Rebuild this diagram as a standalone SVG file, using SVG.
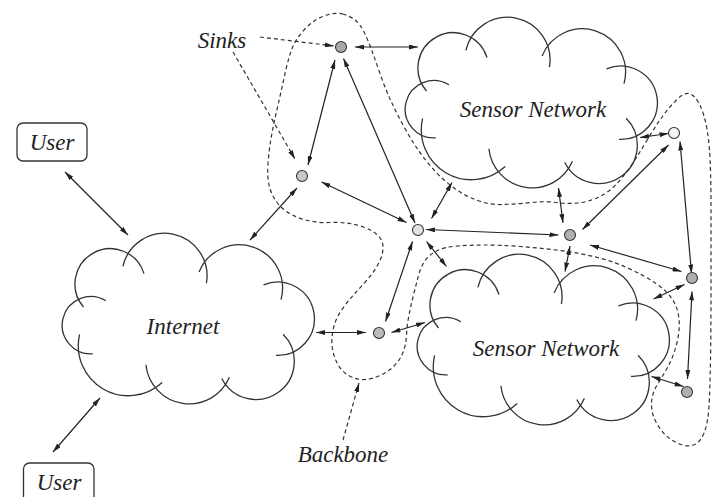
<svg xmlns="http://www.w3.org/2000/svg" xmlns:xlink="http://www.w3.org/1999/xlink" width="712" height="497" viewBox="0 0 712 497">
<style>
.cl{fill:none;stroke:#333;stroke-width:1.3}
.ln{fill:none;stroke:#222;stroke-width:1.2;marker-start:url(#ah);marker-end:url(#ah)}
.dl{fill:none;stroke:#333;stroke-width:1.2;stroke-dasharray:4 3}
.da{marker-end:url(#ah)}
.lbl{font-family:"Liberation Serif","Times New Roman",serif;font-style:italic;font-size:23px;fill:#222}
.box{fill:#fff;stroke:#333;stroke-width:1.3}
.snk{stroke:#333;stroke-width:1.1}
</style>
<defs>
<marker id="ah" viewBox="0 0 9 5" refX="9" refY="2.5" markerWidth="9" markerHeight="5" markerUnits="userSpaceOnUse" orient="auto-start-reverse">
<path d="M0,0 L9,2.5 L0,5 Z" fill="#222"/>
</marker>
<path id="cloud" class="cl" d="M27.5,79.0 A35.3,35.3 0 1 1 88.0,45.6 M66.9,38.4 A42.6,42.6 0 0 1 150.4,55.2 M143.1,43.9 A43.3,43.3 0 0 1 225.0,71.6 M207.5,56.9 A36.7,36.7 0 1 1 220.0,127.4 M227.1,106.2 A38.3,38.3 0 1 1 165.8,150.5 M173.4,149.3 A43.6,43.6 0 0 1 89.9,136.7 M106.2,154.5 A50,50 0 0 1 23.6,106.4 M36.7,125.9 A28.7,28.7 0 1 1 49.9,72.8"/>
</defs>
<rect width="712" height="497" fill="#fff"/>

<g id="backbone">
<path class="dl" d="M342.5,14 Q350,16 355,20 Q360,24 364,32 Q368,40 372,51 Q376,62 380.5,75 Q385,88 390.5,100 Q396,112 403,125 Q410,138 417.5,149 Q425,160 434,170 Q443,180 454,188 Q465,196 477.5,200.5 Q490,205 503.5,204.5 Q517,204 531,202.5 Q545,201 556,202.5 Q567,204 577.5,203 Q588,202 598,197.5 Q608,193 616.5,184 Q625,175 632.5,163.5 Q640,152 647.5,139.5 Q655,127 662.5,116.5 Q670,106 678.5,98 Q687,90 693.5,96 Q700,102 704,116 Q708,130 709.5,150 Q711,170 711,210 Q711,250 711,290 Q711,330 710.5,360 Q710,390 709,406.5 Q708,423 704,433 Q700,443 693.5,445 Q687,447 679.5,444 Q672,441 666,435.5 Q660,430 655.5,421 Q651,412 651.5,402.5 Q652,393 658,383.5 Q664,374 669,364.5 Q674,355 677,342.5 Q680,330 679,319 Q678,308 672.5,299.5 Q667,291 656,283.5 Q645,276 630,269 Q615,262 597.5,257.5 Q580,253 560,250.5 Q540,248 520,246.5 Q500,245 485,245 Q470,245 457.5,246 Q445,247 437.5,250.5 Q430,254 425.5,260 Q421,266 418.5,275.5 Q416,285 413.5,295 Q411,305 409,315 Q407,325 406.5,335 Q406,345 403,352.5 Q400,360 394,366 Q388,372 380,375.5 Q372,379 365,379.5 Q358,380 350.5,376.5 Q343,373 338.5,365.5 Q334,358 332.5,349 Q331,340 333,330 Q335,320 341,311 Q347,302 353.5,295 Q360,288 367,280 Q374,272 378.5,263.5 Q383,255 383,247.5 Q383,240 377.5,235 Q372,230 363.5,227 Q355,224 346.5,223 Q338,222 329,222.5 Q320,223 310,221 Q300,219 291.5,214.5 Q283,210 277.5,203 Q272,196 269.5,187 Q267,178 268,164 Q269,150 271,138.5 Q273,127 275.5,116 Q278,105 280.5,94 Q283,83 285.5,71.5 Q288,60 291.5,50 Q295,40 304,30 Q313,20 324,16 Q335,12 342.5,14 Z"/>
</g>

<g id="internet">
<use xlink:href="#cloud" href="#cloud" transform="translate(56,228)"/>
<text class="lbl" x="183" y="334" text-anchor="middle">Internet</text>
</g>
<g id="sensor-network-top">
<use xlink:href="#cloud" href="#cloud" transform="translate(399,12)"/>
<text class="lbl" x="533" y="117" text-anchor="middle">Sensor Network</text>
</g>
<g id="sensor-network-bottom">
<use xlink:href="#cloud" href="#cloud" transform="translate(411,249)"/>
<text class="lbl" x="546" y="356" text-anchor="middle">Sensor Network</text>
</g>

<g id="user-top">
<rect class="box" x="17" y="123" width="70" height="38" rx="6"/>
<text class="lbl" x="52" y="150" text-anchor="middle">User</text>
</g>
<g id="user-bottom">
<rect class="box" x="23.5" y="463" width="70.5" height="40" rx="6"/>
<text class="lbl" x="59" y="490" text-anchor="middle">User</text>
</g>

<g id="label-sinks">
<text class="lbl" x="222" y="48" text-anchor="middle">Sinks</text>
</g>
<g id="label-backbone">
<text class="lbl" x="343" y="462" text-anchor="middle">Backbone</text>
</g>

<g id="connectors">
<line class="ln" x1="65" y1="172" x2="128" y2="235"/>
<line class="ln" x1="53" y1="452" x2="100" y2="398"/>
<line class="ln" x1="250" y1="240" x2="297" y2="188"/>
<line class="ln" x1="308" y1="165" x2="335" y2="60"/>
<line class="ln" x1="355" y1="47" x2="418" y2="47"/>
<line class="ln" x1="343.5" y1="58.5" x2="415" y2="223"/>
<line class="ln" x1="321.5" y1="182" x2="406.5" y2="222.5"/>
<line class="ln" x1="431.5" y1="218.5" x2="452" y2="182.5"/>
<line class="ln" x1="426" y1="229.5" x2="558.5" y2="235"/>
<line class="ln" x1="558.5" y1="188" x2="563" y2="223"/>
<line class="ln" x1="582.5" y1="229.5" x2="668.5" y2="145"/>
<line class="ln" x1="640" y1="137.5" x2="668.5" y2="133.5"/>
<line class="ln" x1="680" y1="141.5" x2="691.5" y2="273.5"/>
<line class="ln" x1="590" y1="245" x2="681.5" y2="271.5"/>
<line class="ln" x1="570" y1="246" x2="565" y2="271.5"/>
<line class="ln" x1="412.5" y1="241.5" x2="385.5" y2="321.5"/>
<line class="ln" x1="426.5" y1="241.5" x2="446.5" y2="266.5"/>
<line class="ln" x1="316" y1="332.5" x2="366" y2="332.5"/>
<line class="ln" x1="391.5" y1="332.5" x2="425" y2="322.5"/>
<line class="ln" x1="684.5" y1="284.5" x2="653.5" y2="299"/>
<line class="ln" x1="692" y1="291.5" x2="687.5" y2="379"/>
<line class="ln" x1="683.5" y1="386.5" x2="651.5" y2="376.5"/>
<line class="dl da" x1="260" y1="37" x2="334" y2="46"/>
<line class="dl da" x1="233" y1="52" x2="295" y2="159"/>
<line class="dl da" x1="343" y1="440" x2="359" y2="383"/>
</g>

<g id="sink-a"><circle class="snk" cx="341" cy="47" r="5.5" fill="#a8a8a8"/></g>
<g id="sink-b"><circle class="snk" cx="302" cy="176" r="5.5" fill="#c8c8c8"/></g>
<g id="sink-c"><circle class="snk" cx="418" cy="230" r="5.5" fill="#e2e2e2"/></g>
<g id="sink-d"><circle class="snk" cx="570" cy="235" r="5.5" fill="#b0b0b0"/></g>
<g id="sink-e"><circle class="snk" cx="674" cy="133" r="5.5" fill="#f6f6f6"/></g>
<g id="sink-f"><circle class="snk" cx="692" cy="278" r="5.5" fill="#b0b0b0"/></g>
<g id="sink-g"><circle class="snk" cx="687" cy="392" r="5.5" fill="#b0b0b0"/></g>
<g id="sink-h"><circle class="snk" cx="379" cy="333" r="5.5" fill="#bcbcbc"/></g>
</svg>
